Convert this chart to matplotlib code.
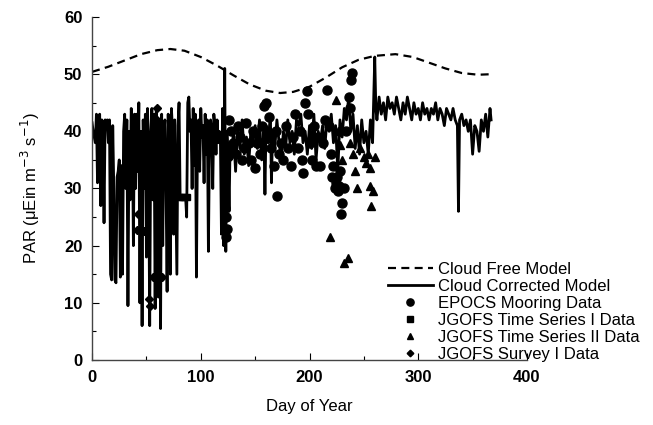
import matplotlib
matplotlib.use("Agg")
import matplotlib.pyplot as plt
from matplotlib.ticker import MultipleLocator

plt.rcParams["font.family"] = ["Liberation Sans", "DejaVu Sans"]

# Cloud free model (dashed)
free_day = [0, 15, 30, 45, 60, 72, 85, 100, 115, 130, 145, 160, 173, 185, 200,
            215, 230, 245, 260, 279, 295, 310, 325, 340, 355, 368]
free_par = [50.4, 51.3, 52.4, 53.5, 54.2, 54.4, 54.1, 53.0, 51.5, 49.8, 48.2, 47.1, 46.7, 46.9, 47.8,
            49.4, 51.2, 52.5, 53.2, 53.5, 53.0, 52.0, 51.0, 50.2, 49.9, 50.0]

# Cloud corrected model (solid)
corr_day = list(range(0, 128)) + [
    128, 130, 132, 134, 136, 138, 140, 142, 144, 146, 148, 150, 152, 154, 156, 158, 159, 160,
    162, 164, 165, 166, 168, 170, 172, 174, 176, 178, 180, 182, 184, 186, 188, 190, 192, 194,
    196, 198, 200, 202, 204, 206, 208, 210, 212, 214, 216, 218, 220, 222, 224, 226, 228, 230,
    232, 234, 236, 238, 240, 242, 244, 246, 248, 250, 252, 254, 256, 258, 260, 261, 262, 264,
    266, 268, 270, 272, 274, 276, 278, 280, 282, 284, 286, 288, 290, 292, 294, 296, 298, 300,
    302, 304, 306, 308, 310, 312, 314, 316, 318, 320, 322, 324, 326, 328, 330, 332, 334, 336,
    337, 338, 340, 342, 344, 346, 348, 350, 352, 354, 356, 358, 360, 362, 364, 366, 367]
corr_par = [
    41.5, 40, 39, 38, 43, 31, 42, 43, 27, 42, 41, 24, 42, 41, 42, 38, 42, 15, 14, 41,
    30, 14, 13.5, 32, 33, 35, 14.5, 34, 15, 40, 43, 30, 42, 9.5, 40, 28, 44, 42, 20, 43,
    30, 43, 33, 45, 10, 40, 6, 42, 30, 43, 18, 44, 35, 6, 40, 44, 28, 43, 9, 44,
    40, 11, 42, 5.5, 43, 20, 39, 42, 31, 12, 43, 35, 15, 44, 40, 22, 42, 28, 15, 41,
    45, 28.5, 28.5, 28.5, 28.5, 28.5, 28.5, 25, 45, 46, 40, 42, 30, 44, 34, 43, 14.5, 40, 42, 33,
    44, 39, 41, 31, 43, 36, 42, 19, 38, 42, 40, 30, 43, 41, 36, 42, 38, 40, 39, 22,
    44, 20, 51, 19, 40, 36, 26, 38,
    35, 40, 33, 41, 37, 42, 36, 39, 34, 40, 38, 41, 37, 42, 35, 40, 29, 41,
    38, 43, 31, 40, 37, 42, 38, 35, 40, 37, 42, 38, 40, 36, 42, 41, 43, 38,
    40, 36, 41, 37, 43, 35, 40, 38, 41, 37, 42, 40, 43, 38, 41, 33, 42, 39,
    44, 42, 46, 40, 43, 37, 41, 36, 42, 38, 40, 36, 42, 38, 53, 44, 42, 46,
    43, 45, 42, 46, 44, 45, 43, 46, 44, 42, 45, 43, 46, 44, 42, 45, 43, 44,
    42, 45, 43, 44, 42, 44, 43, 45, 42, 44, 43, 41, 44, 43, 42, 44, 42, 41,
    26, 42, 43, 41, 42, 40, 42, 36, 41, 40, 36.5, 42, 40, 43, 39, 44, 42]

# EPOCS mooring data (circles)
epocs_day = [122, 123, 124, 123, 126, 128, 130, 132, 134, 136, 138, 140, 142, 144, 146, 148,
             150, 152, 154, 156, 158, 160, 161, 163, 165, 167, 169, 170, 172, 174, 176, 178,
             180, 183, 185, 187, 189, 191, 193, 194, 196, 198, 199, 200, 202, 204, 206, 208,
             210, 212, 214, 216, 218, 220, 221, 222, 223, 224, 225, 226, 227, 228, 229, 230,
             232, 234, 236, 238, 239, 237]
epocs_par = [26.5, 25, 23, 21.5, 42, 40, 38, 36, 41, 39, 35, 37, 41.5, 38, 35, 40,
             33.5, 38, 36, 41, 44.5, 45, 39, 42.5, 37, 34, 40, 28.7, 36, 38, 35, 41,
             37, 34, 39, 43, 37, 40, 35, 32.7, 45, 47, 43, 38, 35, 41, 34, 39,
             34, 38, 42, 47.2, 41, 36, 32, 34, 30, 31, 32, 29.5, 30.5, 33, 25.5, 27.5,
             30, 40, 46, 49, 50.2, 44]

# JGOFS Time Series I (squares)
ts1_day = [81, 83, 85, 87]
ts1_par = [28.5, 28.5, 28.5, 28.5]

# JGOFS Time Series II (triangles)
ts2_day = [219, 224, 226, 228, 230, 232, 235, 237, 240, 242, 244, 246, 250, 252, 254,
           256, 256, 258, 257, 260]
ts2_par = [21.5, 45.5, 40, 37.6, 35, 17, 17.8, 38, 36, 33, 30, 37, 35.5, 34.5, 36,
           33.6, 30.5, 29.5, 27, 35.5]

# JGOFS Survey I (diamonds)
surv_day = [46, 44, 47, 42, 41, 48, 52, 53, 56, 60, 60, 64, 62, 65, 66, 67]
surv_par = [36.4, 33.8, 31.5, 25.5, 22.8, 22.6, 10.6, 9.4, 14.5, 44, 42, 14.6, 28, 36, 33, 38]

fig = plt.figure(figsize=(6.53, 4.25), dpi=100)
ax = fig.add_axes([0.141, 0.153, 0.666, 0.807])

ax.plot(free_day, free_par, color="black", lw=1.6, ls=(0, (3.6, 2.4)), label="Cloud Free Model")
ax.plot(corr_day, corr_par, color="black", lw=2.0, label="Cloud Corrected Model")
ax.plot(epocs_day, epocs_par, "o", color="black", ms=6.5, label="EPOCS Mooring Data")
ax.plot(ts1_day, ts1_par, "s", color="black", ms=5, label="JGOFS Time Series I Data")
ax.plot(ts2_day, ts2_par, "^", color="black", ms=5.5, label="JGOFS Time Series II Data")
ax.plot(surv_day, surv_par, "D", color="black", ms=4.2, label="JGOFS Survey I Data")

ax.set_xlim(0, 400)
ax.set_ylim(0, 60)
ax.xaxis.set_major_locator(MultipleLocator(100))
ax.xaxis.set_minor_locator(MultipleLocator(50))
ax.yaxis.set_major_locator(MultipleLocator(10))
ax.yaxis.set_minor_locator(MultipleLocator(5))
ax.tick_params(which="major", direction="in", length=5, width=0.8, labelsize=12, pad=7)
ax.tick_params(which="minor", direction="in", length=3, width=0.8)
for lab in ax.get_xticklabels() + ax.get_yticklabels():
    lab.set_fontweight("bold")
for side in ["top", "right"]:
    ax.spines[side].set_visible(False)
for side in ["left", "bottom"]:
    ax.spines[side].set_color("#444444")
    ax.spines[side].set_linewidth(1.0)

ax.set_xlabel("Day of Year", fontsize=12, labelpad=10)
ax.set_ylabel(r"PAR ($\mathregular{\mu}$Ein m$^{-3}$ s$^{-1}$)", fontsize=12, labelpad=16)

fig.legend(loc="upper left", bbox_to_anchor=(0.594, 0.384), frameon=False, fontsize=12,
           handlelength=2.7, handletextpad=0.3, labelspacing=0.12, borderpad=0, borderaxespad=0,
           markerscale=0.8)

fig.savefig("out.png", dpi=100)
